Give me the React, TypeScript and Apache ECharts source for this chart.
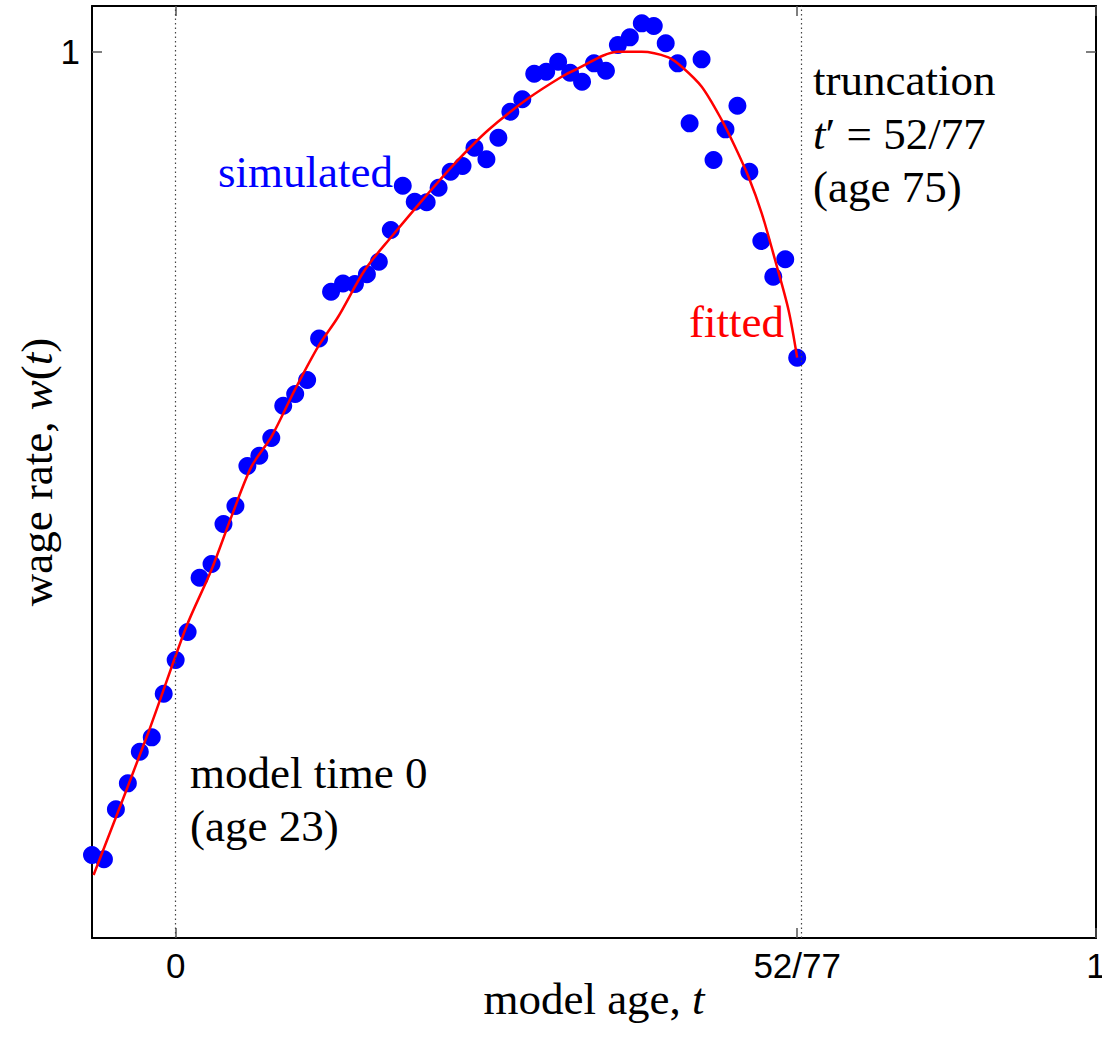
import React, { useEffect, useRef } from "react";
import * as echarts from "echarts";

// ages of the simulated worker (model time t = (age - 23) / 77)
const ages = [16, 17, 18, 19, 20, 21, 22, 23, 24, 25, 26, 27, 28, 29, 30, 31, 32, 33, 34, 35,
  36, 37, 38, 39, 40, 41, 42, 43, 44, 45, 46, 47, 48, 49, 50, 51, 52, 53, 54, 55,
  56, 57, 58, 59, 60, 61, 62, 63, 64, 65, 66, 67, 68, 69, 70, 71, 72, 73, 74, 75];

// simulated wage rate (normalised so that the fitted peak is 1)
const simulated = [0.0936, 0.0888, 0.1452, 0.1745, 0.2102, 0.2264, 0.2756, 0.3137, 0.3453, 0.4065,
  0.4220, 0.4671, 0.4874, 0.5326, 0.5442, 0.5641, 0.6006, 0.6138, 0.6296, 0.6764,
  0.7291, 0.7385, 0.7379, 0.7490, 0.7630, 0.7988, 0.8488, 0.8308, 0.8301, 0.8466,
  0.8646, 0.8710, 0.8917, 0.8786, 0.9030, 0.9323, 0.9463, 0.9752, 0.9774, 0.9887,
  0.9763, 0.9662, 0.9869, 0.9786, 1.0076, 1.0162, 1.0320, 1.0290, 1.0095, 0.9869,
  0.9192, 0.9914, 0.8778, 0.9124, 0.9391, 0.8646, 0.7864, 0.7462, 0.7658, 0.6548];

// fitted curve
const fitT = [-0.0892, -0.0300, 0.0116, 0.0388, 0.0606, 0.0823, 0.1041, 0.1294, 0.1548, 0.1766,
  0.2055, 0.2345, 0.2744, 0.3034, 0.3397, 0.3832, 0.4194, 0.4338, 0.4810, 0.5064,
  0.5354, 0.5499, 0.5716, 0.5934, 0.6078, 0.6224, 0.6368, 0.6513, 0.6659, 0.6753];
const fitW = [0.0711, 0.2310, 0.3512, 0.4152, 0.4754, 0.5318, 0.5656, 0.6183, 0.6672, 0.7010,
  0.7537, 0.7913, 0.8402, 0.8741, 0.9117, 0.9474, 0.9718, 0.9794, 1.0000, 1.0000,
  0.9937, 0.9831, 0.9605, 0.9229, 0.8928, 0.8590, 0.8177, 0.7650, 0.7086, 0.6548];

const xTicks = [0, 52 / 77, 1];
const yTicks = [1];
const truncation = 52 / 77;

const SERIF = '"Liberation Serif", "Times New Roman", serif';
const SANS = '"Liberation Sans", Arial, sans-serif';
const FS = 45;

const W = 1102;
const H = 1037;

export default function App() {
  const ref = useRef<HTMLDivElement>(null);
  useEffect(() => {
    if (!ref.current) return;
    const chart = echarts.init(ref.current, null, { renderer: "svg" });
    const tFromAge = (a: number) => (a - 23) / 77;
    const fmtX = (v: number) => (Math.abs(v - truncation) < 1e-6 ? "52/77" : String(Math.round(v)));
    const tick = { show: true, inside: true, length: 10, lineStyle: { color: "#555", width: 1.5 } };
    const frame = () => ({ show: true, onZero: false, lineStyle: { color: "#000", width: 2 } });
    const rich = {
      r: { fontFamily: SERIF, fontSize: FS, color: "#000" },
      i: { fontFamily: SERIF, fontSize: FS, fontStyle: "italic", color: "#000" },
    };
    const font = `${FS}px ${SERIF}`;
    chart.setOption({
      animation: false,
      grid: { left: 92, right: 6, top: 6, bottom: 99, show: false, containLabel: false, outerBoundsMode: "none" },
      xAxis: [
        {
          type: "value", min: -7 / 77, max: 1, position: "bottom",
          axisLine: frame(), splitLine: { show: false },
          axisTick: { ...tick, customValues: xTicks },
          axisLabel: { customValues: xTicks, formatter: fmtX, fontFamily: SANS, fontSize: 35, color: "#000", margin: 10, showMaxLabel: true, showMinLabel: true },
          name: "{r|model age, }{i|t}", nameLocation: "middle", nameGap: 38, nameMoveOverlap: false,
          nameTextStyle: { rich },
        },
        {
          type: "value", min: -7 / 77, max: 1, position: "top",
          axisLine: frame(), splitLine: { show: false },
          axisTick: { ...tick, customValues: xTicks },
          axisLabel: { show: false },
        },
      ],
      yAxis: [
        {
          type: "value", min: 0, max: 1.0516, position: "left",
          axisLine: frame(), splitLine: { show: false },
          axisTick: { ...tick, customValues: yTicks },
          axisLabel: { customValues: yTicks, fontFamily: SANS, fontSize: 35, color: "#000", margin: 12 },
          name: "{r|wage rate, }{i|w}{r|(}{i|t}{r|)}", nameLocation: "middle", nameGap: 33, nameMoveOverlap: false,
          nameTextStyle: { rich },
        },
        {
          type: "value", min: 0, max: 1.0516, position: "right",
          axisLine: frame(), splitLine: { show: false },
          axisTick: { ...tick, customValues: yTicks },
          axisLabel: { show: false },
        },
      ],
      series: [
        {
          type: "scatter",
          data: ages.map((a, i) => [tFromAge(a), simulated[i]]),
          symbol: "circle", symbolSize: 18,
          itemStyle: { color: "#0000ff", opacity: 1 },
          z: 2,
          markLine: {
            silent: true, symbol: "none", label: { show: false },
            lineStyle: { color: "#444", width: 1.2, type: [1.5, 3] },
            data: [{ xAxis: 0 }, { xAxis: truncation }],
          },
        },
        {
          type: "line",
          data: fitT.map((t, i) => [t, fitW[i]]),
          showSymbol: false, smooth: 0.3,
          lineStyle: { color: "#ff0000", width: 2.5 },
          z: 3,
        },
      ],
      graphic: [
        { type: "text", x: 393, y: 172, style: { text: "simulated", fill: "#0000ff", font, textAlign: "right", textVerticalAlign: "middle" } },
        { type: "text", x: 784, y: 322, style: { text: "fitted", fill: "#ff0000", font, textAlign: "right", textVerticalAlign: "middle" } },
        { type: "text", x: 813, y: 80, style: { text: "truncation", fill: "#000", font, textAlign: "left", textVerticalAlign: "middle" } },
        { type: "text", x: 813, y: 134, style: { text: "{i|t}{r|′ = 52/77}", rich, textAlign: "left", textVerticalAlign: "middle" } },
        { type: "text", x: 813, y: 187, style: { text: "(age 75)", fill: "#000", font, textAlign: "left", textVerticalAlign: "middle" } },
        { type: "text", x: 190, y: 773, style: { text: "model time 0", fill: "#000", font, textAlign: "left", textVerticalAlign: "middle" } },
        { type: "text", x: 190, y: 826, style: { text: "(age 23)", fill: "#000", font, textAlign: "left", textVerticalAlign: "middle" } },
      ],
    });
    return () => chart.dispose();
  }, []);
  return <div ref={ref} style={{ position: "absolute", left: 0, top: 0, width: W, height: H }} />;
}
